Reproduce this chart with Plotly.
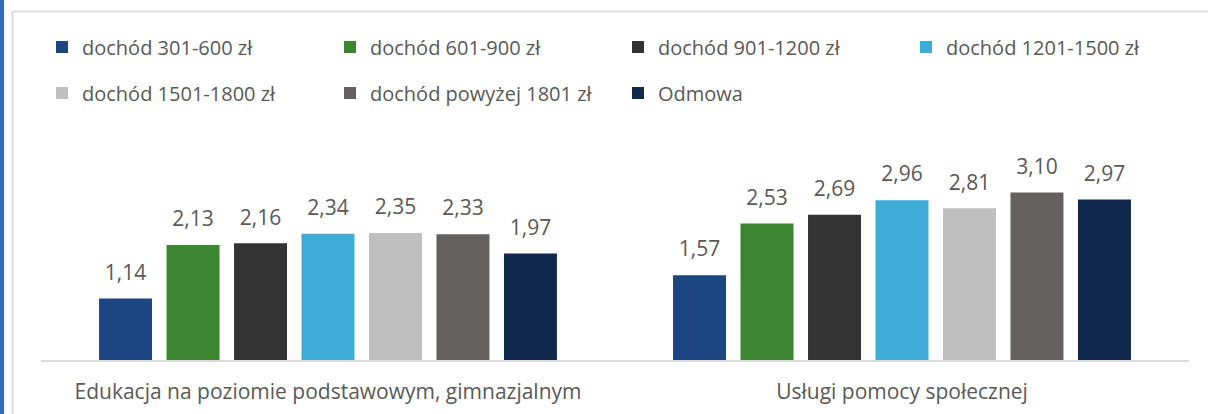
import plotly.graph_objects as go

categories = ["Edukacja na poziomie podstawowym, gimnazjalnym", "Usługi pomocy społecznej"]
series_names = ["dochód 301-600 zł", "dochód 601-900 zł", "dochód 901-1200 zł", "dochód 1201-1500 zł",
                "dochód 1501-1800 zł", "dochód powyżej 1801 zł", "Odmowa"]
s_301_600 = [1.14, 1.57]
s_601_900 = [2.13, 2.53]
s_901_1200 = [2.16, 2.69]
s_1201_1500 = [2.34, 2.96]
s_1501_1800 = [2.35, 2.81]
s_powyzej_1801 = [2.33, 3.10]
s_odmowa = [1.97, 2.97]
series_values = [s_301_600, s_601_900, s_901_1200, s_1201_1500, s_1501_1800, s_powyzej_1801, s_odmowa]
colors = ["#1b4682", "#3d8631", "#333333", "#3eacd6", "#bfbfbf", "#656161", "#10294d"]

FONT = "Open Sans"
TXT = "#595959"
W, H = 1208, 414
L, R, T, B = 41, 19, 144, 54
PW, PH = W - L - R, H - T - B

def px_x(p):
    return (p - L) / PW

def px_y(p):
    return (H - B - p) / PH

fig = go.Figure()
for i, (name, vals, col) in enumerate(zip(series_names, series_values, colors)):
    fig.add_trace(go.Bar(
        x=categories, y=vals, name=name, marker=dict(color=col, line=dict(width=0)),
        legend="legend" if i < 4 else "legend2",
    ))
for i, (name, vals) in enumerate(zip(series_names, series_values)):
    fig.add_trace(go.Scatter(
        x=categories, y=vals, mode="markers+text", showlegend=False,
        text=[f"{v:.2f}".replace(".", ",") for v in vals],
        textposition="top center",
        marker=dict(size=20, color="rgba(0,0,0,0)"),
        textfont=dict(family=FONT, size=21, color=TXT),
        hoverinfo="skip", cliponaxis=False,
    ))

leg_common = dict(orientation="h", xanchor="left", yanchor="middle", entrywidth=243,
                  font=dict(family=FONT, size=20, color=TXT), bgcolor="rgba(0,0,0,0)")

fig.update_layout(
    width=W, height=H,
    margin=dict(l=L, r=R, t=T, b=B, autoexpand=False),
    paper_bgcolor="white", plot_bgcolor="white",
    barmode="group", bargap=0.177, bargroupgap=0.215,
    scattermode="group", scattergap=0.177,
    font=dict(family=FONT, color=TXT, size=20),
    legend=dict(x=px_x(42), y=px_y(47), **leg_common),
    legend2=dict(x=px_x(42), y=px_y(93), **leg_common),
    xaxis=dict(showline=True, linecolor="#d9d9d9", linewidth=2, showgrid=False, ticks="",
               tickfont=dict(family=FONT, size=21, color=TXT), ticklabelstandoff=12),
    yaxis=dict(range=[0, 4.0], visible=False, showgrid=False),
    shapes=[
        dict(type="rect", xref="paper", yref="paper", x0=px_x(0), x1=px_x(4), y0=px_y(414), y1=px_y(0),
             fillcolor="#2f6fbd", line=dict(width=0), layer="above"),
        dict(type="line", xref="paper", yref="paper", x0=px_x(12), x1=px_x(1210), y0=px_y(11.5), y1=px_y(11.5),
             line=dict(color="#dcdcdc", width=2)),
        dict(type="line", xref="paper", yref="paper", x0=px_x(12.5), x1=px_x(12.5), y0=px_y(11), y1=px_y(416),
             line=dict(color="#dcdcdc", width=2)),
    ],
)

fig.write_html("out.html", config={"displayModeBar": False},
               post_script="document.body.style.margin='0';")
